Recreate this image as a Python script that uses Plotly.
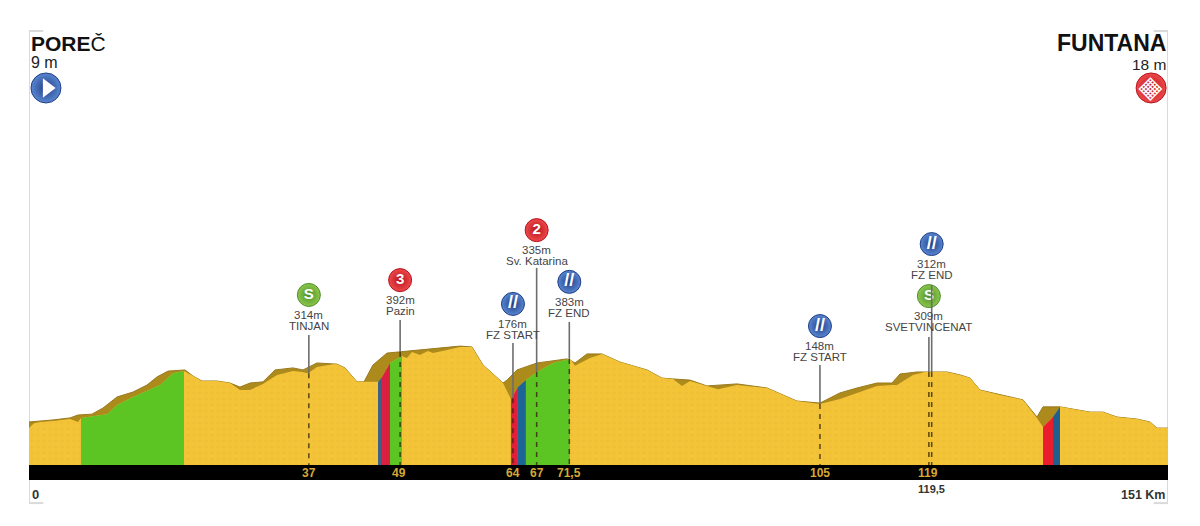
import plotly.graph_objects as go

# ---------- data (km along the stage, metres of height) ----------
top_km = [0, 1.46, 3.18, 5.44, 6.5, 8.35, 9.81, 11.67, 13.79, 15.64, 16.97, 18.43, 20.68, 21.74, 22.93, 24.92,
          26.65, 27.97, 29.3, 31.02, 32.61, 35.0, 36.32, 38.18, 40.83, 41.89, 43.48, 44.41, 45.6, 47.46, 49.18,
          54.09, 57.14, 58.73, 60.19, 62.84, 63.37, 64.69, 67.35, 71.32, 71.72, 72.38, 73.97, 75.96, 78.35, 81.93,
          83.92, 85.38, 87.63, 89.88, 93.86, 97.84, 101.81, 104.86, 107.51, 109.77, 112.42, 114.41, 115.47, 117.72,
          121.7, 123.42, 124.75, 126.07, 128.73, 131.78, 133.63, 134.43, 136.68, 140.66, 142.38, 144.24, 146.89,
          148.61, 149.54, 151]
top_m = [148, 151, 155, 162, 172, 175, 196, 234, 251, 275, 303, 323, 327, 306, 289, 289,
         282, 268, 282, 286, 327, 334, 327, 351, 347, 334, 286, 286, 344, 385, 389,
         402, 409, 406, 344, 282, 292, 327, 351, 365, 361, 351, 382, 382, 354, 327,
         299, 296, 292, 272, 279, 265, 220, 213, 248, 265, 282, 282, 313, 320,
         320, 310, 299, 258, 241, 224, 165, 200, 200, 182, 182, 165, 158,
         148, 127, 127]

surface_km = [0, 0.66, 1.46, 3.18, 5.44, 6.5, 6.89, 10.34, 11.67, 13.79, 17.37, 19.09, 20.55, 21.74, 22.93, 24.92,
              26.65, 27.97, 29.3, 31.02, 32.88, 35.0, 36.19, 36.99, 38.18, 40.3, 40.83, 41.89, 43.48, 44.41, 46.27,
              46.8, 47.86, 49.45, 50.11, 50.77, 51.83, 52.89, 53.56, 55.41, 57.14, 58.73, 60.19, 62.84, 63.89, 64.82,
              65.88, 67.35, 69.47, 71.72, 71.98, 72.38, 74.37, 75.96, 78.35, 81.93, 83.92, 85.38, 86.57, 87.63, 89.88,
              91.34, 93.86, 97.84, 101.81, 104.86, 107.51, 109.77, 112.42, 114.41, 115.07, 117.19, 118.78, 121.7,
              123.42, 124.75, 126.07, 128.73, 131.78, 133.63, 134.43, 135.75, 136.68, 140.66, 142.38, 144.24, 146.89,
              148.61, 149.54, 151]
surface_m = [127, 144, 148, 151, 158, 148, 162, 175, 206, 234, 275, 316, 323, 306, 289, 289,
             282, 258, 258, 279, 310, 323, 320, 316, 337, 347, 347, 334, 286, 286, 286,
             303, 351, 375, 368, 389, 378, 392, 385, 396, 406, 406, 344, 282, 227, 268,
             292, 320, 351, 365, 358, 341, 368, 382, 354, 327, 299, 296, 272, 289, 272,
             261, 275, 265, 220, 210, 227, 248, 272, 275, 275, 310, 320, 320,
             310, 299, 258, 241, 224, 162, 131, 165, 200, 182, 182, 165, 158,
             148, 127, 127]

# coloured gradient sections: start km, end km, colour
section_start = [6.89, 46.27, 46.8, 47.86, 63.89, 64.82, 65.88, 134.43, 135.75]
section_end = [20.55, 46.8, 47.86, 49.45, 64.82, 65.88, 71.72, 135.75, 136.68]
section_color = ["#5CC423", "#3F5F86", "#DB1F43", "#5CC423", "#E01F3D", "#1C6596", "#5CC423", "#EA1C2E", "#1F5F8F"]

# stops along the stage
stop_km = [37.1, 49.2, 67.3, 64.16, 71.63, 104.86, 119.67, 119.3]
stop_height = ["314m", "392m", "335m", "176m", "383m", "148m", "312m", "309m"]
stop_name = ["TINJAN", "Pazin", "Sv. Katarina", "FZ START", "FZ END", "FZ START", "FZ END", "SVETVINCENAT"]
stop_icon = ["S", "3", "2", "//", "//", "//", "//", "S"]
stop_color = ["#8CC84B", "#EE4A4A", "#EE4A4A", "#5A86D0", "#5A86D0", "#5A86D0", "#5A86D0", "#8CC84B"]
stop_edge = ["#4F8F2A", "#B8121E", "#B8121E", "#1F3F88", "#1F3F88", "#1F3F88", "#1F3F88", "#4F8F2A"]
stop_icon_m = [585, 636, 808, 554, 630, 478, 760, 581]
stop_line_top_m = [447, 499, 678, 420, 492, 344, 619, 440]
stop_ground_m = [316, 389, 320, 230, 365, 210, 320, 320]

band_km = [37.1, 49.1, 64.1, 67.3, 71.6, 104.9, 119.2]
band_text = ["37", "49", "64", "67", "71,5", "105", "119"]

START_NAME, START_HEIGHT = "<b>PORE</b>Č", "9 m"
END_NAME, END_HEIGHT = "<b>FUNTANA</b>", "18 m"

# ---------- axes: 0 m sits on the top of the black band ----------
KM_MAX = 151
Y_MIN, Y_MAX = -209.84, 1599.6
BAND_M = -52

YELLOW = "#F3C338"
BROWN = "#AD8A1C"
FONT = "Liberation Sans, Arial, sans-serif"

fig = go.Figure()

# terrain
fig.add_trace(go.Scatter(x=top_km, y=top_m, mode="lines", fill="tozeroy", fillcolor=BROWN,
                         line=dict(color="#9A7A1C", width=1), hoverinfo="skip"))
fig.add_trace(go.Scatter(x=surface_km, y=surface_m, mode="none", fill="tozeroy", fillcolor=YELLOW,
                         fillpattern=dict(shape=".", fgcolor="#EDBB33", bgcolor=YELLOW, size=6, solidity=0.25),
                         hoverinfo="skip"))

# coloured sections
for a, b, c in zip(section_start, section_end, section_color):
    xs = [k for k in surface_km if a <= k <= b]
    ys = [m for k, m in zip(surface_km, surface_m) if a <= k <= b]
    fig.add_trace(go.Scatter(x=xs, y=ys, mode="none", fill="tozeroy", fillcolor=c, hoverinfo="skip"))

# stop icons (drawn before the lines, the reference line runs over the green icon)
fig.add_trace(go.Scatter(
    x=stop_km, y=stop_icon_m, mode="markers+text", text=[f"<b>{s}</b>" for s in stop_icon],
    textposition="middle center",
    textfont=dict(family=FONT, size=[18 if s == "//" else 15 for s in stop_icon], color="white"),
    marker=dict(size=23, color=stop_color, line=dict(color=stop_edge, width=1),
                gradient=dict(type="radial", color=stop_edge)),
    hoverinfo="skip"))

# stop lines
for k, t, g in zip(stop_km, stop_line_top_m, stop_ground_m):
    fig.add_trace(go.Scatter(x=[k, k], y=[t, g], mode="lines", line=dict(color="#6E6E6E", width=1.6),
                             hoverinfo="skip"))
    fig.add_trace(go.Scatter(x=[k, k], y=[g, 0], mode="lines",
                             line=dict(color="rgba(50,40,10,0.8)", width=1.5, dash="5px,5px"), hoverinfo="skip"))

# start and finish icons
fig.add_trace(go.Scatter(x=[2.25, 148.76], y=[1297, 1297], mode="markers",
                         marker=dict(size=30, color=["#5A86D0", "#EE4A4A"], line=dict(color=["#1F3F88", "#B8121E"], width=1),
                                     gradient=dict(type="radial", color=["#1F3F88", "#B8121E"])), hoverinfo="skip"))
fig.add_trace(go.Scatter(x=[2.4], y=[1297], mode="markers",
                         marker=dict(symbol="triangle-right", size=17, color="white"), hoverinfo="skip"))

ann = []
def text(x, y, s, size, color="#333333", xanchor="center", yshift=0, **kw):
    ann.append(dict(x=x, y=y, xref="x", yref="y", text=s, showarrow=False, xanchor=xanchor, yanchor="middle",
                    yshift=yshift, font=dict(family=FONT, size=size, color=color), borderpad=0, borderwidth=0, **kw))

for k, ic, h, n in zip(stop_km, stop_icon_m, stop_height, stop_name):
    text(k, ic, h, 11.5, "#444444", yshift=-20)
    text(k, ic, n, 11.5, "#444444", yshift=-31)

for k, s in zip(band_km, band_text):
    text(k, BAND_M / 2, f"<b>{s}</b>", 12, "#D6A935")

text(0.2, 1451, START_NAME, 21, "#111111", xanchor="left")
text(0.2, 1383, START_HEIGHT, 16, "#222222", xanchor="left")
text(150.8, 1453, END_NAME, 23, "#111111", xanchor="right")
text(150.8, 1379, END_HEIGHT, 15.5, "#222222", xanchor="right")
text(0.35, -103, "<b>0</b>", 13, "#333333", xanchor="left")
text(150.6, -103, "<b>151 Km</b>", 12.5, "#333333", xanchor="right")
text(119.67, -83, "<b>119,5</b>", 11, "#333333")
text(148.76, 1297, "▦", 22, "#FFFFFF", textangle=45)
ann[-1]["font"]["family"] = "DejaVu Sans"

frame = "#DADADA"
shapes = [
    dict(type="line", xref="x", yref="y", x0=0, x1=0, y0=-131, y1=1493, line=dict(color=frame, width=2), layer="below"),
    dict(type="line", xref="x", yref="y", x0=151, x1=151, y0=-131, y1=1493, line=dict(color=frame, width=2), layer="below"),
    dict(type="line", xref="x", yref="y", x0=0, x1=1.9, y0=1493, y1=1493, line=dict(color=frame, width=2), layer="below"),
    dict(type="line", xref="x", yref="y", x0=149.1, x1=151, y0=1493, y1=1493, line=dict(color=frame, width=2), layer="below"),
    dict(type="line", xref="x", yref="y", x0=0, x1=1.9, y0=-131, y1=-131, line=dict(color=frame, width=2), layer="below"),
    dict(type="line", xref="x", yref="y", x0=149.1, x1=151, y0=-131, y1=-131, line=dict(color=frame, width=2), layer="below"),
    dict(type="rect", xref="x", yref="y", x0=0, x1=KM_MAX, y0=BAND_M, y1=0, fillcolor="#000000", line=dict(width=0), layer="above"),
]

fig.update_layout(
    width=1200, height=526, margin=dict(l=29, r=32, t=0, b=0, pad=0),
    paper_bgcolor="white", plot_bgcolor="white", showlegend=False,
    xaxis=dict(range=[0, KM_MAX], visible=False, fixedrange=True),
    yaxis=dict(range=[Y_MIN, Y_MAX], visible=False, fixedrange=True),
    annotations=ann, shapes=shapes,
)
fig.write_html("out.html", post_script="document.body.style.margin='0';", config={"displayModeBar": False})
